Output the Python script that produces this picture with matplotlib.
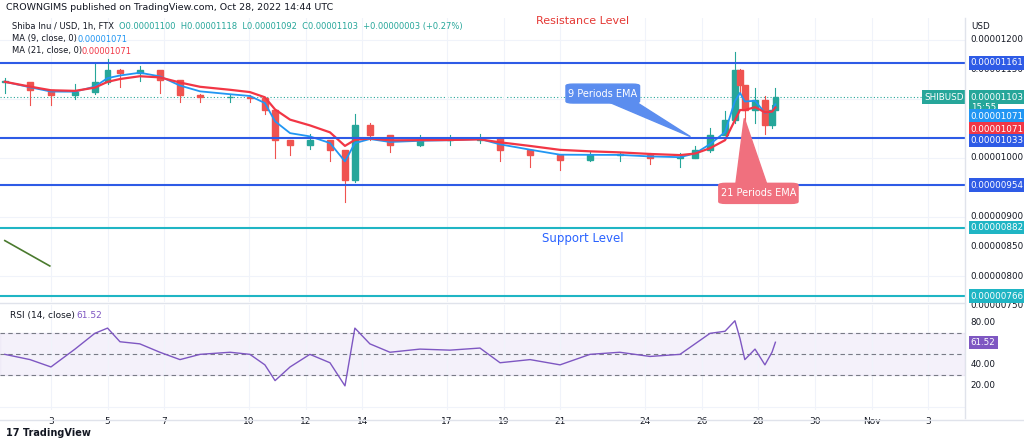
import numpy as np
import pandas as pd
import matplotlib.pyplot as plt
from matplotlib.patches import Rectangle, FancyBboxPatch, Polygon

# prices in units of 1e-8 USD, time in October day numbers
days = [1.37, 2.26, 3.0, 3.85, 4.55, 5.0, 5.44, 6.14, 6.85, 7.56, 8.27, 9.33, 10.03,
        10.56, 10.92, 11.45, 12.15, 12.86, 13.39, 13.74, 14.27, 14.98, 16.04, 17.1,
        18.16, 18.87, 19.93, 20.99, 22.05, 23.1, 24.17, 25.23, 25.76, 26.29, 26.82,
        27.17, 27.35, 27.52, 27.88, 28.23, 28.48, 28.6]
closes = [1129, 1115, 1107, 1112, 1129, 1149, 1144, 1149, 1132, 1107, 1103, 1103, 1102,
          1081, 1031, 1022, 1031, 1014, 963, 1056, 1039, 1022, 1031, 1031,
          1034, 1014, 1005, 997, 1005, 1005, 1000, 1000, 1014, 1039, 1064,
          1149, 1124, 1081, 1098, 1056, 1081, 1103]
highs = [1135, 1120, 1112, 1125, 1160, 1168, 1150, 1155, 1140, 1112, 1108, 1108, 1106,
         1090, 1060, 1030, 1040, 1025, 1000, 1075, 1060, 1030, 1038, 1038,
         1040, 1035, 1012, 1005, 1010, 1010, 1008, 1008, 1020, 1050, 1080,
         1180, 1150, 1100, 1118, 1105, 1090, 1118]
lows = [1110, 1090, 1090, 1100, 1108, 1125, 1120, 1130, 1110, 1095, 1095, 1095, 1095,
        1075, 1000, 1005, 1015, 995, 925, 960, 1030, 1010, 1020, 1022,
        1025, 995, 985, 980, 995, 995, 990, 985, 1000, 1010, 1040,
        1060, 1110, 1060, 1060, 1040, 1050, 1092]
rsi = [50, 45, 38, 55, 70, 75, 62, 60, 52, 45, 50, 52, 50,
       40, 25, 38, 50, 42, 20, 75, 60, 52, 55, 54,
       56, 42, 45, 40, 50, 52, 48, 50, 60, 70, 72,
       82, 65, 45, 55, 40, 52, 61.52]
levels_blue = [1161, 1033, 954]
levels_cyan = [882, 766]
tick_days = [3, 5, 7, 10, 12, 14, 17, 19, 21, 24, 26, 28, 30, 32, 34]
tick_labels = ['3', '5', '7', '10', '12', '14', '17', '19', '21', '24', '26', '28', '30', 'Nov', '3']
price_ticks = [1200, 1150, 1000, 900, 850, 800, 750]
rsi_ticks = [80, 40, 20]

W, H = 1024, 443
fig = plt.figure(figsize=(W / 100, H / 100), dpi=100)
BLUE = '#2e5be6'
CYAN = '#1fb5c4'

def pane(top, bottom, ylim):
    ax = fig.add_axes([0, 1 - bottom / H, 965 / W, (bottom - top) / H])
    ax.set_xlim(1.2, 35.3)
    ax.set_ylim(*ylim)
    ax.set_xticks(tick_days)
    ax.grid(True, color='#f0f3fa', lw=0.8)
    ax.tick_params(left=False, bottom=False, labelleft=False, labelbottom=False)
    for s in ax.spines.values():
        s.set_visible(False)
    return ax

ax = pane(18, 302, (756, 1237))
rax = pane(305, 410, (-3, 97))

# candles
opens = [closes[0]] + closes[:-1]
for d, o, c, h, l in zip(days, opens, closes, highs, lows):
    col = '#26a69a' if c >= o else '#ef5350'
    ax.plot([d, d], [l, h], color=col, lw=0.8, zorder=2)
    ax.add_patch(Rectangle((d - 0.1, min(o, c)), 0.2, max(abs(c - o), 1), color=col, zorder=2))

s = pd.Series(closes)
ax.plot(days, s.ewm(span=3).mean(), color='#2196f3', lw=1.3, zorder=3)
ax.plot(days, s.ewm(span=6).mean(), color='#f23645', lw=1.6, zorder=3)

for lv in levels_blue:
    ax.axhline(lv, color=BLUE, lw=1.5, zorder=4)
for lv in levels_cyan:
    ax.axhline(lv, color=CYAN, lw=1.5, zorder=4)
ax.axhline(closes[-1], color='#26a69a', lw=0.8, ls=(0, (1, 2)), zorder=1)
ax.plot([1.37, 2.96], [860, 817], color='#4a7a2e', lw=1.2)

ax.text(21.8, 1232, 'Resistance Level', color='#e53935', fontsize=8, ha='center', va='center')
ax.text(21.8, 875, 'Support Level', color='#2962ff', fontsize=8.5, ha='center', va='top')

# callouts
ax.add_patch(Polygon([[22.6, 1097], [23.6, 1097], [25.6, 1036]], color='#5b8def', zorder=5))
ax.add_patch(FancyBboxPatch((21.2, 1093), 2.6, 32, boxstyle='round,pad=0,rounding_size=0.25',
                            color='#5b8def', zorder=5, mutation_aspect=12))
ax.text(22.5, 1109, '9 Periods EMA', color='white', fontsize=7, ha='center', va='center', zorder=6)
ax.add_patch(Polygon([[27.5, 1067], [27.2, 955], [28.3, 955]], color='#f0707e', zorder=5))
ax.add_patch(FancyBboxPatch((26.6, 923), 2.8, 34, boxstyle='round,pad=0,rounding_size=0.25',
                            color='#f0707e', zorder=5, mutation_aspect=12))
ax.text(28.0, 940, '21 Periods EMA', color='white', fontsize=7, ha='center', va='center', zorder=6)

# RSI pane
rax.axhspan(30, 70, color='#7e57c2', alpha=0.08)
for lv in (70, 50, 30):
    rax.axhline(lv, color='#787b86', lw=0.8, ls=(0, (4, 3)))
rax.plot(days, rsi, color='#7e57c2', lw=1.0)
fig.add_artist(plt.Line2D([0, 965 / W], [1 - 303 / H] * 2, color='#e0e3eb', lw=1))
rax.text(0.01, 0.88, 'RSI (14, close)', transform=rax.transAxes, fontsize=6.5, color='#131722')
rax.text(0.079, 0.88, '61.52', transform=rax.transAxes, fontsize=6.5, color='#7e57c2')

# date labels
for d, t in zip(tick_days, tick_labels):
    rax.text(d, -10, t, fontsize=6.5, color='#131722', ha='center', va='top', clip_on=False)

# right scale
fig.add_artist(plt.Line2D([965 / W] * 2, [1 - 418 / H, 1 - 18 / H], color='#e0e3eb', lw=1))

def rlabel(a, y, txt, bg=None, fg='#131722'):
    kw = dict(fontsize=6.3, color=fg, va='center', ha='left', transform=a.get_yaxis_transform(),
              clip_on=False, zorder=10 if bg else 9)
    if bg:
        kw['bbox'] = dict(boxstyle='square,pad=0.25', fc=bg, ec='none')
    a.text(1.006, y, txt, **kw)

for p in price_ticks:
    rlabel(ax, p, '0.%08d' % p)
rlabel(ax, 1161, '0.00001161', BLUE, 'white')
rlabel(ax, 1103, '0.00001103', '#26a69a', 'white')
rlabel(ax, 1085, '15:55', '#26a69a', 'white')
rlabel(ax, 1071, '0.00001071', '#2196f3', 'white')
rlabel(ax, 1049, '0.00001071', '#f23645', 'white')
rlabel(ax, 1029, '0.00001033', BLUE, 'white')
rlabel(ax, 954, '0.00000954', BLUE, 'white')
rlabel(ax, 882, '0.00000882', CYAN, 'white')
rlabel(ax, 766, '0.00000766', CYAN, 'white')
ax.text(1.006, 1222, 'USD', fontsize=6.3, transform=ax.get_yaxis_transform(), va='center', color='#131722')
ax.text(0.999, 1103, 'SHIBUSD', fontsize=6.3, color='white', ha='right', va='center',
        transform=ax.get_yaxis_transform(), bbox=dict(boxstyle='square,pad=0.25', fc='#26a69a', ec='none'))
for r in rsi_ticks:
    rlabel(rax, r, '%.2f' % r)
rlabel(rax, 61.52, '61.52', '#7e57c2', 'white')

# header
fig.text(6 / W, 1 - 8 / H, 'CROWNGIMS published on TradingView.com, Oct 28, 2022 14:44 UTC',
         fontsize=6.8, color='#131722', va='center')
fig.text(12 / W, 1 - 27 / H, 'Shiba Inu / USD, 1h, FTX', fontsize=6, color='#131722', va='center')
fig.text(119 / W, 1 - 27 / H, 'O0.00001100  H0.00001118  L0.00001092  C0.00001103  +0.00000003 (+0.27%)',
         fontsize=6, color='#26a69a', va='center')
fig.text(12 / W, 1 - 39 / H, 'MA (9, close, 0)', fontsize=6, color='#131722', va='center')
fig.text(78 / W, 1 - 39 / H, '0.00001071', fontsize=6, color='#2196f3', va='center')
fig.text(12 / W, 1 - 51 / H, 'MA (21, close, 0)', fontsize=6, color='#131722', va='center')
fig.text(81 / W, 1 - 51 / H, '0.00001071', fontsize=6, color='#f23645', va='center')
fig.text(6 / W, 1 - 433 / H, '17 TradingView', fontsize=7, color='#131722', va='center', weight='bold')
fig.add_artist(plt.Line2D([0, 1], [1 - 420 / H] * 2, color='#e0e3eb', lw=1))

fig.savefig('out.png', dpi=100)
